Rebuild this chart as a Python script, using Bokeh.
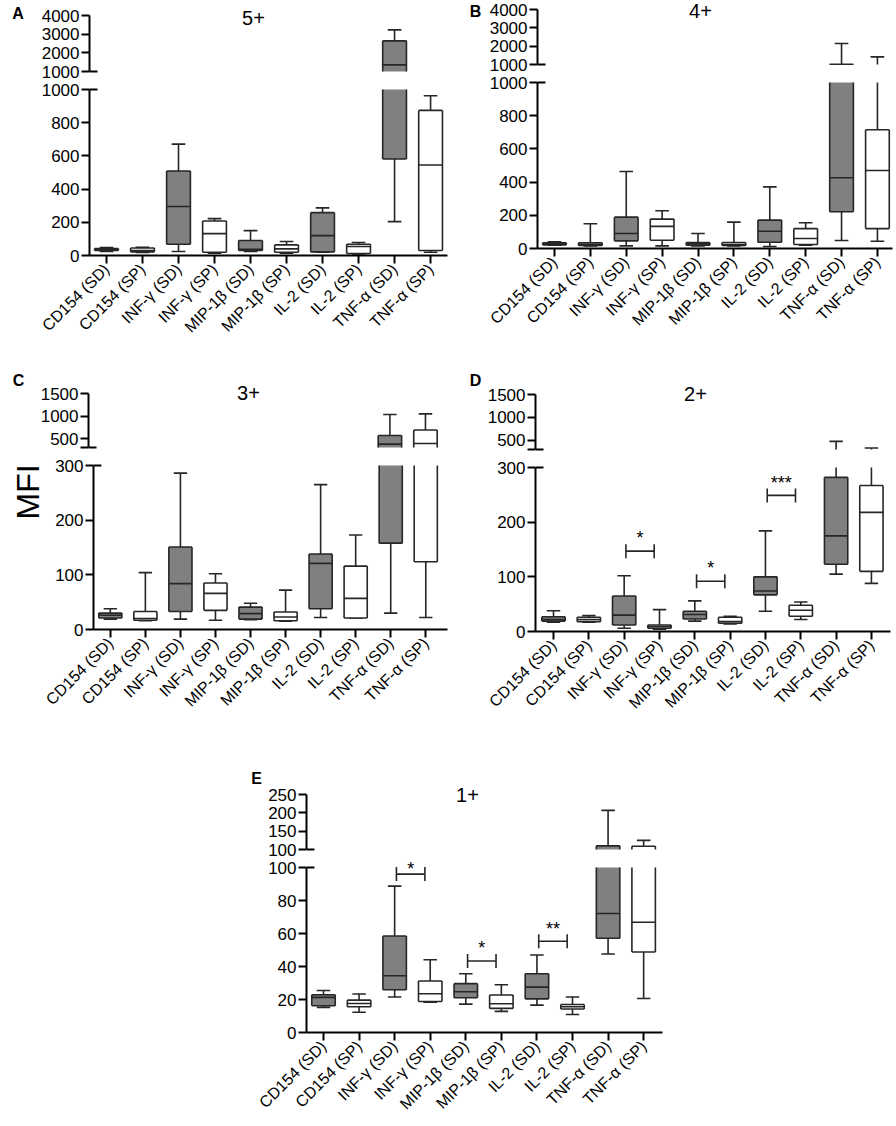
import math
from bokeh.plotting import figure
from bokeh.layouts import row, column, Spacer
from bokeh.models import Range1d, FixedTicker, Label, ColumnDataSource, Title
from bokeh.embed import file_html
from bokeh.resources import INLINE

# ---------------- data ----------------
categories = ["CD154 (SD)", "CD154 (SP)", "INF-γ (SD)", "INF-γ (SP)",
              "MIP-1β (SD)", "MIP-1β (SP)", "IL-2 (SD)", "IL-2 (SP)",
              "TNF-α (SD)", "TNF-α (SP)"]
groups = ["SD", "SP"] * 5

# Panel A (5+)
a_min = [25, 18, 24, 14, 24, 14, 20, 10, 204, 20]
a_q1 = [30, 22, 68, 20, 30, 20, 22, 12, 581, 30]
a_med = [35, 30, 295, 132, 38, 40, 120, 54, 1357, 545]
a_q3 = [42, 45, 509, 208, 90, 64, 258, 68, 2643, 874]
a_max = [48, 50, 671, 222, 150, 84, 287, 78, 3232, 962]

# Panel B (4+)
b_min = [20, 16, 16, 16, 16, 16, 12, 20, 48, 44]
b_q1 = [22, 18, 46, 50, 20, 18, 38, 24, 221, 120]
b_med = [28, 24, 90, 133, 28, 24, 104, 60, 426, 470]
b_q3 = [35, 34, 189, 177, 36, 36, 171, 120, 1015, 715]
b_max = [40, 149, 464, 227, 90, 159, 371, 155, 2145, 1418]

# Panel C (3+)
c_min = [19, 16, 19, 17, 18, 15, 22, 21, 30, 22]
c_q1 = [21, 17, 33, 35, 19, 16, 38, 21, 158, 124]
c_med = [26, 20, 84, 66, 29, 23, 121, 57, 376, 390]
c_q3 = [30, 33, 151, 85, 41, 32, 138, 116, 566, 690]
c_max = [38, 104, 286, 102, 48, 72, 265, 173, 1033, 1047]

# Panel D (2+)
d_min = [17, 17, 6, 4, 19, 14, 37, 22, 105, 88]
d_q1 = [19, 18, 12, 6, 23, 15, 67, 28, 123, 110]
d_med = [22, 22, 30, 9, 31, 18, 74, 39, 175, 218]
d_q3 = [27, 26, 65, 12, 37, 26, 100, 48, 282, 267]
d_max = [38, 29, 102, 40, 56, 28, 184, 54, 478, 332]

# Panel E (1+)
e_min = [15.2, 12.3, 21.5, 18.4, 17.2, 12.8, 16.6, 10.9, 47.6, 20.6]
e_q1 = [16.2, 15.6, 25.9, 18.8, 21.1, 14.6, 20.4, 14.2, 57.1, 48.8]
e_med = [21.3, 17.6, 34.4, 23.5, 24.7, 17.4, 27.5, 15.6, 72.1, 66.8]
e_q3 = [22.9, 19.6, 58.5, 31.2, 29.6, 22.7, 35.6, 17.0, 110, 109]
e_max = [25.5, 23.3, 88.7, 44.1, 35.6, 28.9, 47.0, 21.5, 206.6, 125]

# axis ticks (lower section / upper section)
ab_lower_ticks = [0, 200, 400, 600, 800, 1000]
ab_upper_ticks = [1000, 2000, 3000, 4000]
cd_lower_ticks = [0, 100, 200, 300]
cd_upper_ticks = [300, 500, 1000, 1500]
e_lower_ticks = [0, 20, 40, 60, 80, 100]
e_upper_ticks = [100, 150, 200, 250]

# significance: category pairs, bracket value, label, star value
d_sig_pairs = [(3, 4), (5, 6), (7, 8)]
d_sig_y = [147, 92, 249]
d_sig_text = ["*", "*", "***"]
d_star_y = [179, 124, 279]
e_sig_pairs = [(3, 4), (5, 6), (7, 8)]
e_sig_y = [96, 43.3, 55.3]
e_sig_text = ["*", "*", "**"]
e_star_y = [106, 53.8, 65.4]

y_title = "MFI"

# ---------------- style ----------------
FONT = "Liberation Sans"
INK = "#262626"
FILL = {"SD": "#808080", "SP": "#ffffff"}
BOX_W = 0.66
CAP_W = 0.38
LW = 1.6
STAR_SIZE = 18
NAN = float("nan")


def style_axis(ax, size="17px"):
    ax.axis_line_width = 2
    ax.axis_line_color = "black"
    ax.major_tick_line_width = 2
    ax.major_tick_line_color = "black"
    ax.major_tick_out = 8
    ax.major_tick_in = 0
    ax.minor_tick_line_color = None
    ax.major_label_text_font = FONT
    ax.major_label_text_font_size = size
    ax.major_label_text_color = "black"
    ax.major_label_standoff = 2


def base_fig(w, h, mbl, mbr, mbt, mbb, xr, yr, xaxis=False, yaxis=True):
    p = figure(width=w, height=h, x_range=xr, y_range=yr,
               output_backend="svg", toolbar_location=None,
               x_axis_location=("below" if xaxis else None),
               y_axis_location=("left" if yaxis else None),
               min_border_left=mbl, min_border_right=mbr,
               min_border_top=mbt, min_border_bottom=mbb)
    p.outline_line_color = None
    p.grid.visible = False
    p.border_fill_color = "white"
    p.background_fill_color = "white"
    return p


def draw_boxes(p, stats, lo_lim, hi_lim):
    """Draw the box plots, showing only the part that lies in [lo_lim, hi_lim]."""
    def c(v):
        return min(max(v, lo_lim), hi_lim)

    def inside(v):
        return lo_lim <= v <= hi_lim

    cols = {k: [] for k in ("x", "fill", "bb", "bt", "e1", "e3", "med",
                            "uw0", "uw1", "lw0", "lw1", "chi", "clo")}
    for i, (lo, q1, med, q3, hi) in enumerate(zip(*stats)):
        cols["x"].append(i + 1)
        cols["fill"].append(FILL[groups[i]])
        b0, b1 = c(q1), c(q3)
        ok = b1 > b0
        cols["bb"].append(b0 if ok else NAN)
        cols["bt"].append(b1 if ok else NAN)
        cols["e1"].append(q1 if inside(q1) else NAN)
        cols["e3"].append(q3 if inside(q3) else NAN)
        cols["med"].append(med if inside(med) else NAN)
        w0, w1 = c(q3), c(hi)
        cols["uw0"].append(w0 if w1 > w0 else NAN)
        cols["uw1"].append(w1 if w1 > w0 else NAN)
        l0, l1 = c(lo), c(q1)
        cols["lw0"].append(l0 if l1 > l0 else NAN)
        cols["lw1"].append(l1 if l1 > l0 else NAN)
        cols["chi"].append(hi if inside(hi) else NAN)
        cols["clo"].append(lo if inside(lo) else NAN)
    xs = cols["x"]
    cols["cx0"] = [x - CAP_W / 2 for x in xs]
    cols["cx1"] = [x + CAP_W / 2 for x in xs]
    cols["bx0"] = [x - BOX_W / 2 for x in xs]
    cols["bx1"] = [x + BOX_W / 2 for x in xs]
    src = ColumnDataSource(cols)
    kw = dict(source=src, line_color=INK, line_width=LW)
    p.segment(x0="x", y0="uw0", x1="x", y1="uw1", **kw)
    p.segment(x0="x", y0="lw0", x1="x", y1="lw1", **kw)
    p.segment(x0="cx0", y0="chi", x1="cx1", y1="chi", **kw)
    p.segment(x0="cx0", y0="clo", x1="cx1", y1="clo", **kw)
    p.vbar(x="x", width=BOX_W, bottom="bb", top="bt", source=src,
           fill_color="fill", line_color=None)
    p.segment(x0="bx0", y0="bb", x1="bx0", y1="bt", **kw)
    p.segment(x0="bx1", y0="bb", x1="bx1", y1="bt", **kw)
    p.segment(x0="bx0", y0="e1", x1="bx1", y1="e1", **kw)
    p.segment(x0="bx0", y0="e3", x1="bx1", y1="e3", **kw)
    p.segment(x0="bx0", y0="med", x1="bx1", y1="med", **kw)


def add_label(p, x, y, text, size, bold=False):
    p.add_layout(Label(x=x, y=y, text=text, text_font=FONT, text_font_size=size,
                       text_font_style=("bold" if bold else "normal"), text_color="black",
                       text_align="center", text_baseline="middle"))


def strip_fig(w, h, texts):
    """A narrow, axis-less figure in pixel coordinates (y up) holding free texts."""
    p = base_fig(w, h, 0, 0, 0, 0, Range1d(0, w), Range1d(0, h), xaxis=False, yaxis=False)
    for (txt, px, py, size, bold) in texts:
        add_label(p, px, h - py, txt, size, bold)
    return p


def build_panel(sp, stats, brk, top, up_ticks, lo_ticks, title, letter,
                up_overrides=None, sig=None, side=None):
    cx, w = sp["cx"], sp["w"]
    fl, fr = sp["fl"], sp["fr"]
    xr0, xr1 = sp["xr"]
    y0, ut, ub, lb, z, yb = sp["y0"], sp["ut"], sp["ub"], sp["lb"], sp["z"], sp["yb"]
    cut = ub + sp["split"]
    upp_u = (top - brk) / (ub - ut)
    upp_l = brk / (z - lb)
    upx = (xr1 - xr0) / (fr - fl)

    def xd(px):
        return xr0 + (px - fl) * upx

    def yd_top(py):
        return top + (ut - py) * upp_u

    def yd_bot(py):
        return (z - py) * upp_l

    # ---- upper section (letter strip + plot)
    lw1 = sp["lw"]
    pt = base_fig(w - lw1, cut - y0, fl - (cx + lw1), cx + w - fr, 0, 0,
                  Range1d(xr0, xr1), Range1d(yd_top(cut), yd_top(y0)))
    ya = pt.yaxis[0]
    style_axis(ya)
    ya.ticker = FixedTicker(ticks=up_ticks)
    ya.bounds = (brk, top)
    if up_overrides:
        ya.major_label_overrides = up_overrides
    draw_boxes(pt, stats, brk, top)
    pt.segment(x0=[xr0], y0=[brk], x1=[xr0 + 8 * upx], y1=[brk], line_color="black", line_width=2)
    add_label(pt, xd(title[1]), yd_top(title[2]), title[0], "20px")
    lt = strip_fig(lw1, cut - y0, [(letter[0], letter[1] - cx, letter[2] - y0, "16px", True)])

    # ---- lower section
    pb = base_fig(w, yb - cut, fl - cx, cx + w - fr, 0, yb - z,
                  Range1d(xr0, xr1), Range1d(0, yd_bot(cut)), xaxis=True)
    if side:
        # side = (text, standoff px, page y of the text's lower end)
        pb.add_layout(Title(text=side[0], align="left", offset=z - side[2],
                            text_font=FONT, text_font_size="32px", text_font_style="normal",
                            text_color="black", standoff=side[1]), "left")
    ya = pb.yaxis[0]
    style_axis(ya)
    ya.ticker = FixedTicker(ticks=lo_ticks)
    ya.bounds = (0, brk)
    xa = pb.xaxis[0]
    style_axis(xa, "16px")
    xa.ticker = FixedTicker(ticks=list(range(1, len(categories) + 1)))
    xa.major_label_overrides = {i + 1: c for i, c in enumerate(categories)}
    xa.major_label_orientation = math.pi / 4
    xa.major_label_standoff = 3
    draw_boxes(pb, stats, 0, brk)
    pb.segment(x0=[xr0], y0=[brk], x1=[xr0 + 8 * upx], y1=[brk], line_color="black", line_width=2)

    if sig:
        pairs, ys, texts, stars = sig
        half = 7 * upp_l
        box_half = STAR_SIZE * 0.6
        for (a, b), yv, t, sy in zip(pairs, ys, texts, stars):
            xa0, xa1 = a + 0.05, b - 0.15
            pb.segment(x0=[xa0], y0=[yv], x1=[xa1], y1=[yv], line_color=INK, line_width=LW)
            pb.segment(x0=[xa0, xa1], y0=[yv - half] * 2, x1=[xa0, xa1], y1=[yv + half] * 2,
                       line_color=INK, line_width=LW)
            anchor = z - sy / upp_l + 4.5
            xm = (xa0 + xa1) / 2
            if anchor + box_half <= cut:
                add_label(pt, xm, yd_top(anchor), t, f"{STAR_SIZE}px")
            else:
                # keep the whole text box inside the lower section's canvas
                anchor = max(anchor, cut + box_half)
                add_label(pb, xm, yd_bot(anchor), t, f"{STAR_SIZE}px")

    return column(row(lt, pt, spacing=0), pb, spacing=0)


# layout of each panel, in page pixels
spec_a = dict(cx=0, w=448, lw=30, fl=89, fr=447, y0=0, ut=15, ub=71, lb=89, z=255, yb=362,
              split=9, xr=(0.528, 10.47))
spec_b = dict(cx=448, w=446, lw=36, fl=537, fr=892, y0=0, ut=9, ub=64, lb=82, z=248, yb=362,
              split=9, xr=(0.527, 10.42))
spec_c = dict(cx=0, w=448, lw=30, fl=88, fr=447, y0=362, ut=393, ub=447, lb=465, z=629, yb=730,
              split=9, xr=(0.52, 10.62))
spec_d = dict(cx=448, w=446, lw=36, fl=535, fr=890, y0=362, ut=394, ub=449, lb=467, z=631, yb=730,
              split=9, xr=(0.49, 10.54))
spec_e = dict(cx=220, w=450, lw=42, fl=306, fr=662, y0=730, ut=794, ub=849, lb=867, z=1032, yb=1124,
              split=9, xr=(0.522, 10.53))

panel_a = build_panel(spec_a, (a_min, a_q1, a_med, a_q3, a_max), 1000, 4000,
                      ab_upper_ticks, ab_lower_ticks, ("5+", 253, 17.5), ("A", 17.5, 12.5))
panel_b = build_panel(spec_b, (b_min, b_q1, b_med, b_q3, b_max), 1000, 4000,
                      ab_upper_ticks, ab_lower_ticks, ("4+", 700, 10), ("B", 475, 11))
panel_c = build_panel(spec_c, (c_min, c_q1, c_med, c_q3, c_max), 300, 1500,
                      cd_upper_ticks, cd_lower_ticks, ("3+", 248, 392), ("C", 18, 380),
                      up_overrides={300: ""}, side=(y_title, 14, 519))
panel_d = build_panel(spec_d, (d_min, d_q1, d_med, d_q3, d_max), 300, 1500,
                      cd_upper_ticks, cd_lower_ticks, ("2+", 695, 393), ("D", 475, 380),
                      up_overrides={300: ""}, sig=(d_sig_pairs, d_sig_y, d_sig_text, d_star_y))
panel_e = build_panel(spec_e, (e_min, e_q1, e_med, e_q3, e_max), 100, 250,
                      e_upper_ticks, e_lower_ticks, ("1+", 467, 794), ("E", 256, 777.5),
                      sig=(e_sig_pairs, e_sig_y, e_sig_text, e_star_y))

layout = column(
    row(panel_a, panel_b, spacing=0),
    row(panel_c, panel_d, spacing=0),
    row(Spacer(width=220, height=10), panel_e, spacing=0),
    spacing=0,
)

open("out.html", "w").write(file_html(layout, INLINE))
